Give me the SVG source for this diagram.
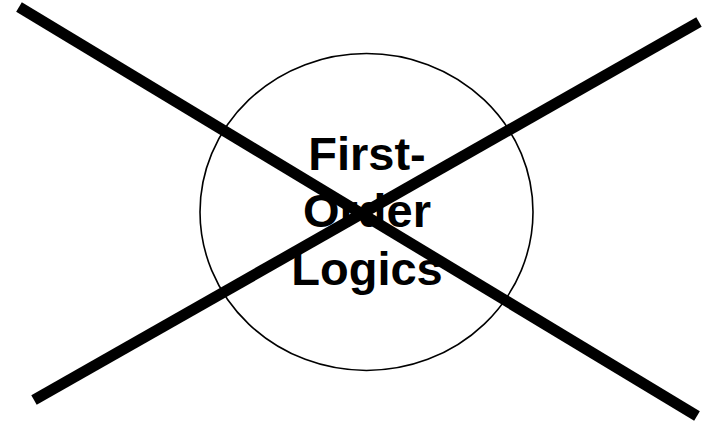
<svg xmlns="http://www.w3.org/2000/svg" width="704" height="422" viewBox="0 0 704 422">
<style>
.lbl{font-family:"Liberation Sans",Arial,sans-serif;font-weight:bold;font-size:47px;fill:#000;text-anchor:middle}
.x{stroke:#000;stroke-width:11;fill:none}
</style>
<rect width="704" height="422" fill="#fff"/>
<g id="node-fol">
<ellipse cx="366.5" cy="212" rx="166.5" ry="158.5" fill="none" stroke="#000" stroke-width="1.6"/>
<text class="lbl" x="367" y="170">First-</text>
<text class="lbl" x="367" y="227">Order</text>
<text class="lbl" x="367" y="285">Logics</text>
</g>
<g id="connectors">
<line class="x" x1="19" y1="7" x2="697" y2="416"/>
<line class="x" x1="34" y1="400" x2="699" y2="22"/>
</g>
</svg>
